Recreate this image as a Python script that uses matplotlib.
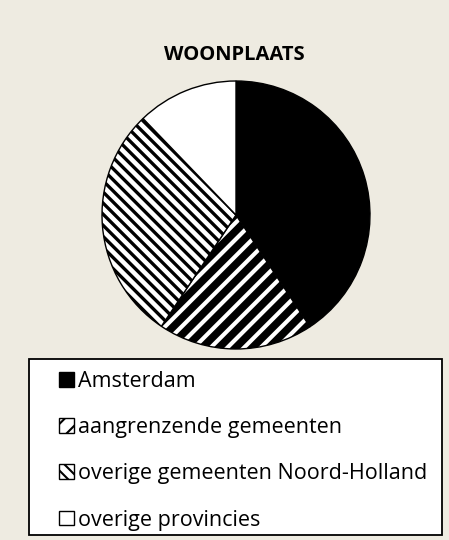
import matplotlib
matplotlib.use("Agg")
import matplotlib.pyplot as plt
from matplotlib.patches import Patch, Rectangle

categories = ["Amsterdam", "aangrenzende gemeenten",
              "overige gemeenten Noord-Holland", "overige provincies"]
values = [40.7, 18.7, 28.4, 12.2]
title = "WOONPLAATS"

plt.rcParams['font.family'] = ['Open Sans', 'DejaVu Sans']
bg = '#EEEBE1'
W, H = 449, 540
fig = plt.figure(figsize=(W/100, H/100), dpi=100, facecolor=bg)

cx, cy, r = 236, 215, 134
ax = fig.add_axes([(cx - r)/W, (H - cy - r)/H, 2*r/W, 2*r/H])
ax.set_facecolor(bg)
fills = ['black', 'white', 'white', 'white']
hatches = [None, '//', '\\\\\\', None]
hlw = [1, 5.5, 2.4, 1]
wedges, _ = ax.pie(values, startangle=90, counterclock=False, radius=1,
                   colors=fills,
                   wedgeprops=dict(edgecolor='black', linewidth=1.0))
for w, h, lw in zip(wedges, hatches, hlw):
    if h:
        w.set_hatch(h)
        if hasattr(w, 'set_hatch_linewidth'):
            w.set_hatch_linewidth(lw)
ax.set_xlim(-1, 1)
ax.set_ylim(-1, 1)
ax.set_aspect('equal')
ax.axis('off')

fig.text(234/W, 1 - 55/H, title, ha='center', va='center',
         fontsize=14.5, fontweight='bold')

# legend frame
fig.patches.append(Rectangle((29/W, 1 - 535/H), (442-29)/W, (535-359)/H,
                             transform=fig.transFigure, facecolor='white',
                             edgecolor='black', linewidth=1.3, zorder=0))

handles = []
for c, h in zip(fills, hatches):
    p = Patch(facecolor=c, edgecolor='black', hatch=h, linewidth=1)
    handles.append(p)
leg = fig.legend(handles, categories, loc='upper left',
                 bbox_to_anchor=(59/W, 1 - 371/H),
                 frameon=False, fontsize=15.5,
                 handlelength=0.68, handleheight=0.68,
                 handletextpad=0.22, labelspacing=1.17, borderpad=0,
                 borderaxespad=0)
for hp in leg.legend_handles:
    if hasattr(hp, 'set_hatch_linewidth'):
        hp.set_hatch_linewidth(1.5)
fig.savefig('out.png', dpi=100, facecolor=bg)
